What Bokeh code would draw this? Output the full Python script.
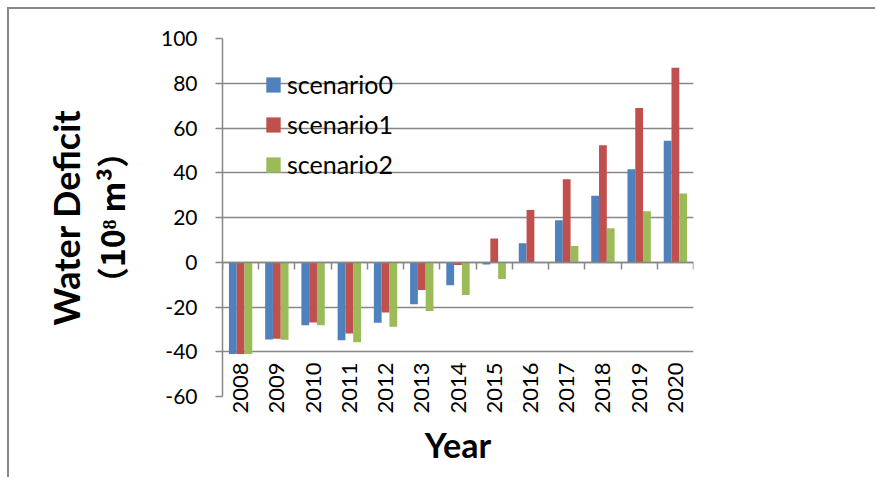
from math import pi
from bokeh.plotting import figure
from bokeh.models import (ColumnDataSource, Range1d, LinearAxis,
                          FixedTicker, Legend, LegendItem)
from bokeh.transform import dodge
from bokeh.embed import file_html
from bokeh.resources import INLINE

years = ["2008", "2009", "2010", "2011", "2012", "2013", "2014",
         "2015", "2016", "2017", "2018", "2019", "2020"]
scenario0 = [-41.0, -34.5, -28.2, -34.9, -27.0, -18.8, -10.3, -1.0, 8.5, 18.8, 29.7, 41.6, 54.3]
scenario1 = [-41.0, -34.2, -26.9, -31.8, -22.5, -12.4, -1.2, 10.6, 23.3, 37.1, 52.3, 68.9, 86.9]
scenario2 = [-41.0, -34.6, -28.2, -35.7, -28.8, -21.8, -14.6, -7.5, 0.0, 7.3, 15.2, 22.8, 30.7]
series_names = ["scenario0", "scenario1", "scenario2"]
colors = ["#4F81BD", "#C0504D", "#9BBB59"]
y_ticks = [-60, -40, -20, 0, 20, 40, 60, 80, 100]

GRAY = "#878787"
FONT = "Lato"

n = len(years)
centers = [i + 0.5 for i in range(n)]
src = ColumnDataSource(dict(x=centers, year=years, s0=scenario0, s1=scenario1, s2=scenario2))

p = figure(x_range=Range1d(0, n), y_range=Range1d(-60, 100),
           width=868, height=470, output_backend="svg", toolbar_location=None,
           min_border_left=213, min_border_top=29, min_border_right=184,
           min_border_bottom=83)
p.margin = (7, 0, 0, 7)
p.styles = {"border-top": f"2px solid {GRAY}", "border-left": f"2px solid {GRAY}"}
p.outline_line_color = None
p.background_fill_color = "white"
p.border_fill_color = "white"

bw = 0.215
renderers = []
for i, (col, c) in enumerate(zip(["s0", "s1", "s2"], colors)):
    r = p.vbar(x=dodge("x", (i - 1) * bw), top=col, bottom=0,
               width=bw, source=src, fill_color=c, line_color=None)
    renderers.append(r)

# y axis
yax = p.yaxis[0]
yax.ticker = FixedTicker(ticks=y_ticks)
yax.major_label_overrides = {t: str(t) for t in y_ticks}
yax.axis_line_color = GRAY
yax.axis_line_width = 1.5
yax.major_tick_line_color = GRAY
yax.major_tick_line_width = 1.5
yax.major_tick_out = 7
yax.major_tick_in = 0
yax.minor_tick_line_color = None
yax.major_label_text_font = FONT
yax.major_label_text_font_size = "21px"
yax.major_label_text_color = "black"
yax.major_label_standoff = 18
yax.axis_label = "（10⁸ m³）"
yax.axis_label_text_font = "Noto Sans CJK SC"
yax.axis_label_text_font_style = "bold"
yax.axis_label_text_font_size = "32px"
yax.axis_label_text_color = "black"
yax.axis_label_standoff = 24

outer = LinearAxis(axis_label="Water Deficit", ticker=FixedTicker(ticks=[]),
                   axis_line_color=None, major_tick_line_color=None,
                   minor_tick_line_color=None,
                   major_label_standoff=0, major_tick_out=0, major_tick_in=0,
                   axis_label_standoff=-3,
                   axis_label_text_font=FONT, axis_label_text_font_style="bold",
                   axis_label_text_font_size="36px", axis_label_text_color="black")
p.add_layout(outer, "left")

p.ygrid.ticker = FixedTicker(ticks=y_ticks)
p.ygrid.grid_line_color = GRAY
p.ygrid.grid_line_width = 1.5
p.xgrid.visible = False

# category labels (low position)
xax = p.xaxis[0]
xax.ticker = FixedTicker(ticks=centers)
xax.major_label_overrides = {c: y for c, y in zip(centers, years)}
xax.axis_line_color = None
xax.major_tick_line_color = None
xax.minor_tick_line_color = None
xax.major_tick_out = 0
xax.major_tick_in = 0
xax.major_label_orientation = pi / 2
xax.major_label_standoff = -34
xax.major_label_text_font = FONT
xax.major_label_text_font_size = "22px"
xax.major_label_text_color = "black"
xax.axis_label = "Year"
xax.axis_label_text_font = FONT
xax.axis_label_text_font_style = "bold"
xax.axis_label_text_font_size = "34px"
xax.axis_label_text_color = "black"
xax.axis_label_standoff = 7

# category axis crossing at zero, tick marks between categories
zax = LinearAxis(ticker=FixedTicker(ticks=[], minor_ticks=list(range(n + 1))),
                 fixed_location=0, major_tick_in=0, major_tick_out=0,
                 minor_tick_in=7, minor_tick_out=0,
                 major_label_standoff=0, axis_line_color=GRAY, axis_line_width=1.5,
                 minor_tick_line_color=GRAY, minor_tick_line_width=1.5)
p.add_layout(zax, "above")

legend = Legend(items=[LegendItem(label=nm, renderers=[r]) for nm, r in zip(series_names, renderers)],
                location=(42, 217), background_fill_alpha=0, border_line_color=None,
                padding=0, margin=0, spacing=10, label_height=20, glyph_height=19,
                glyph_width=18, label_standoff=5, label_text_font=FONT,
                label_text_font_size="25px", label_text_color="black")
p.add_layout(legend)

open("out.html", "w").write(file_html(p, INLINE))
